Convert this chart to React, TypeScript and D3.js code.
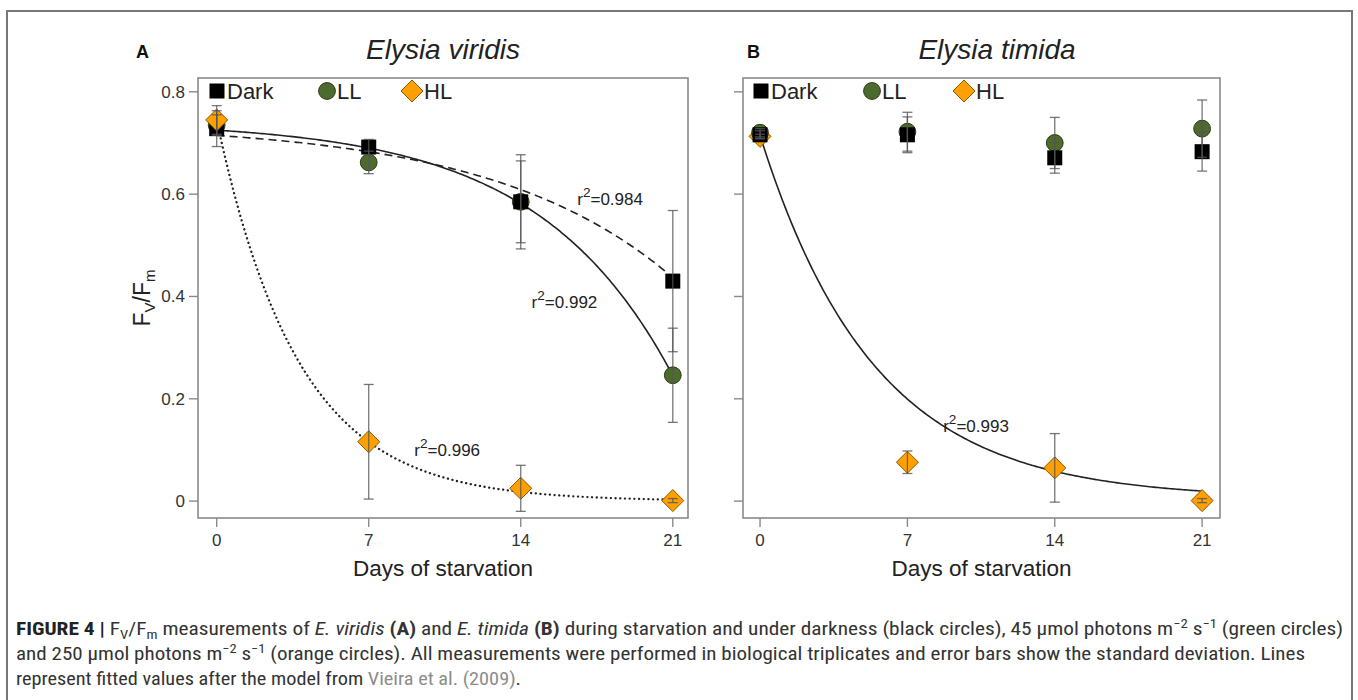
import React from "react";
import * as d3 from "d3";

// Days of starvation
const days = [0, 7, 14, 21];
const dayTicks = [0, 7, 14, 21];
const yTicks = [0, 0.2, 0.4, 0.6, 0.8];

// E. viridis (panel A)
const viridisDark = [0.728, 0.692, 0.585, 0.43];
const viridisDarkSd = [0.035, 0.015, 0.092, 0.138];
const viridisLL = [0.735, 0.662, 0.585, 0.246];
const viridisLLSd = [0.02, 0.022, 0.08, 0.092];
const viridisHL = [0.745, 0.116, 0.025, 0.001];
const viridisHLSd = [0.028, 0.112, 0.045, 0.004];

// E. timida (panel B)
const timidaDark = [0.716, 0.716, 0.671, 0.683];
const timidaDarkSd = [0.008, 0.035, 0.03, 0.038];
const timidaLL = [0.72, 0.722, 0.7, 0.728];
const timidaLLSd = [0.008, 0.038, 0.05, 0.056];
const timidaHL = [0.713, 0.076, 0.065, 0.001];
const timidaHLSd = [0.004, 0.022, 0.067, 0.004];

// fitted model y = a + b * exp(c * t)
const viridisFits = [
  { a: 0.739, b: -0.0242, c: 0.1202, dash: "8,5", r2: "0.984", at: [16.6, 0.578] },
  { a: 0.7417, b: -0.01667, c: 0.1616, dash: "", r2: "0.992", at: [14.5, 0.378] },
  { a: 0, b: 0.745, c: -0.266, dash: "0.1,4.6", r2: "0.996", at: [9.1, 0.088] },
];
const timidaFits = [
  { a: 0.005, b: 0.71, c: -0.185, dash: "", r2: "0.993", at: [8.7, 0.135] },
];

const FONT = "'Liberation Sans', Arial, sans-serif";
const AXIS = "#8a8a8a";
const TXT = "#333";
const GREEN = "#4d6b2c";
const ORANGE = "#ffa000";

const y = d3.scaleLinear().domain([-0.033, 0.827]).range([518, 78]);

type Series = { key: string; vals: number[]; sd: number[] };

const Marker = ({ key2, cx, cy }: { key2: string; cx: number; cy: number }) => {
  if (key2 === "Dark") return <rect x={cx - 7.5} y={cy - 7.5} width={15} height={15} fill="#000" />;
  if (key2 === "LL") return <circle cx={cx} cy={cy} r={8.4} fill={GREEN} stroke="#2c3d18" strokeWidth={1} />;
  const s = 11;
  return (
    <path
      d={`M${cx},${cy - s}L${cx + s},${cy}L${cx},${cy + s}L${cx - s},${cy}Z`}
      fill={ORANGE}
      stroke="#8a5800"
      strokeWidth={1}
    />
  );
};

const R2 = ({ x, y: yy, v, size = 17 }: { x: number; y: number; v: string; size?: number }) => (
  <text x={x} y={yy} fontFamily={FONT} fontSize={size} fill="#222">
    r<tspan dy={-8} fontSize={size * 0.8}>2</tspan>
    <tspan dy={8}>={v}</tspan>
  </text>
);

interface PanelProps {
  left: number;
  right: number;
  domain: [number, number];
  letter: string;
  letterX: number;
  title: string;
  titleX: number;
  order: Series[];
  fits: typeof viridisFits;
  yLabels: boolean;
  legend: number[];
}

const Panel = (p: PanelProps) => {
  const x = d3.scaleLinear().domain(p.domain).range([p.left, p.right]);
  const [y0, y1] = y.range();
  return (
    <g>
      <text x={p.letterX} y={58} fontFamily={FONT} fontWeight="bold" fontSize={18} fill="#111">
        {p.letter}
      </text>
      <text x={p.titleX} y={59} textAnchor="middle" fontFamily={FONT} fontStyle="italic" fontSize={28} fill="#222">
        {p.title}
      </text>
      <rect x={p.left} y={y1} width={p.right - p.left} height={y0 - y1} fill="none" stroke={AXIS} strokeWidth={1.6} />
      {yTicks.map((t) => (
        <g key={t}>
          <line x1={p.left - 9} x2={p.left} y1={y(t)} y2={y(t)} stroke={AXIS} strokeWidth={1.4} />
          {p.yLabels && (
            <text x={p.left - 13} y={y(t) + 6} textAnchor="end" fontFamily={FONT} fontSize={17} fill={TXT}>
              {t === 0 ? "0" : t.toFixed(1)}
            </text>
          )}
        </g>
      ))}
      {dayTicks.map((t) => (
        <g key={t}>
          <line x1={x(t)} x2={x(t)} y1={y0} y2={y0 + 9} stroke={AXIS} strokeWidth={1.4} />
          <text x={x(t)} y={y0 + 28} textAnchor="middle" fontFamily={FONT} fontSize={17} fill={TXT}>
            {t}
          </text>
        </g>
      ))}
      <text x={(p.left + p.right) / 2} y={y0 + 58} textAnchor="middle" fontFamily={FONT} fontSize={22.5} fill="#222">
        Days of starvation
      </text>

      {/* fitted curves */}
      {p.fits.map((f, i) => {
        const dotted = f.dash.startsWith("0.1");
        const line = d3
          .line<number>()
          .x((t) => x(t))
          .y((t) => y(f.a + f.b * Math.exp(f.c * t)));
        return (
          <g key={i}>
            <path
              d={line(d3.range(0, 21.001, 0.1)) ?? ""}
              fill="none"
              stroke="#222"
              strokeWidth={dotted ? 2.3 : 1.6}
              strokeDasharray={f.dash || undefined}
              strokeLinecap={dotted ? "round" : "butt"}
            />
            <R2 x={x(f.at[0])} y={y(f.at[1])} v={f.r2} />
          </g>
        );
      })}

      {/* markers */}
      {p.order.map((s) =>
        days.map((d, i) => <Marker key={s.key + d} key2={s.key} cx={x(d)} cy={y(s.vals[i])} />)
      )}
      {/* error bars */}
      {p.order.map((s) =>
        days.map((d, i) => {
          const cx = x(d);
          const lo = y(s.vals[i] - s.sd[i]);
          const hi = y(s.vals[i] + s.sd[i]);
          return (
            <g key={"e" + s.key + d} stroke="#555" strokeOpacity={0.8} strokeWidth={1.3}>
              <line x1={cx} x2={cx} y1={lo} y2={hi} />
              <line x1={cx - 5} x2={cx + 5} y1={lo} y2={lo} />
              <line x1={cx - 5} x2={cx + 5} y1={hi} y2={hi} />
            </g>
          );
        })
      )}

      {/* legend */}
      {["Dark", "LL", "HL"].map((k, i) => (
        <g key={k}>
          <Marker key2={k} cx={p.legend[i]} cy={91} />
          <text x={p.legend[i] + (k === "HL" ? 12 : 10)} y={99} fontFamily={FONT} fontSize={22} fill="#222">
            {k}
          </text>
        </g>
      ))}
    </g>
  );
};

const sub = (s: string) => (
  <tspan dy={4} fontSize={12}>
    {s}
  </tspan>
);

export default function App() {
  const cap = {
    fontFamily: "'Liberation Sans Narrow', 'Roboto Condensed', Arial, sans-serif",
    fontSize: 17.5,
    fill: "#333",
  };
  return (
    <svg width={1358} height={700} style={{ position: "fixed", left: 0, top: 0, background: "#fff" }}>
      <rect x={0} y={0} width={1358} height={700} fill="#fff" />
      <rect x={7} y={11} width={1345} height={720} fill="none" stroke="#777" strokeWidth={2} />

      <Panel
        left={198}
        right={688}
        domain={[-0.86, 21.7]}
        letter="A"
        letterX={136}
        title="Elysia viridis"
        titleX={443}
        order={[
          { key: "LL", vals: viridisLL, sd: viridisLLSd },
          { key: "Dark", vals: viridisDark, sd: viridisDarkSd },
          { key: "HL", vals: viridisHL, sd: viridisHLSd },
        ]}
        fits={viridisFits}
        yLabels={true}
        legend={[217, 327, 412]}
      />
      <Panel
        left={743}
        right={1220}
        domain={[-0.81, 21.85]}
        letter="B"
        letterX={747}
        title="Elysia timida"
        titleX={997}
        order={[
          { key: "HL", vals: timidaHL, sd: timidaHLSd },
          { key: "LL", vals: timidaLL, sd: timidaLLSd },
          { key: "Dark", vals: timidaDark, sd: timidaDarkSd },
        ]}
        fits={timidaFits}
        yLabels={false}
        legend={[761, 872, 964]}
      />

      {/* y axis title */}
      <text transform="translate(150,298) rotate(-90)" textAnchor="middle" fontFamily={FONT} fontSize={23} fill="#222">
        F<tspan dy={5} fontSize={15}>V</tspan>
        <tspan dy={-5}>/F</tspan>
        <tspan dy={5} fontSize={15}>m</tspan>
      </text>

      {/* caption */}
      <text x={16} y={635} textLength={1327} lengthAdjust="spacingAndGlyphs" {...cap}>
        <tspan fontWeight="bold" fill="#222">FIGURE 4 |</tspan> F{sub("V")}
        <tspan dy={-4}>/F</tspan>
        {sub("m")}
        <tspan dy={-4}> measurements of </tspan>
        <tspan fontStyle="italic">E. viridis</tspan> <tspan fontWeight="bold">(A)</tspan> and{" "}
        <tspan fontStyle="italic">E. timida</tspan> <tspan fontWeight="bold">(B)</tspan> during starvation and under
        darkness (black circles), 45 µmol photons m<tspan dy={-7} fontSize={12}>−2</tspan>
        <tspan dy={7}> s</tspan>
        <tspan dy={-7} fontSize={12}>−1</tspan>
        <tspan dy={7}> (green circles)</tspan>
      </text>
      <text x={16} y={660} textLength={1289} lengthAdjust="spacingAndGlyphs" {...cap}>
        and 250 µmol photons m<tspan dy={-7} fontSize={12}>−2</tspan>
        <tspan dy={7}> s</tspan>
        <tspan dy={-7} fontSize={12}>−1</tspan>
        <tspan dy={7}>
          {" "}
          (orange circles). All measurements were performed in biological triplicates and error bars show the standard
          deviation. Lines
        </tspan>
      </text>
      <text transform="translate(16,685) scale(1.16,1)" {...cap}>
        <tspan>represent fitted values after the model from </tspan>
        <tspan fill="#8c8c8c">Vieira et al. (2009)</tspan>
        <tspan>.</tspan>
      </text>
    </svg>
  );
}
